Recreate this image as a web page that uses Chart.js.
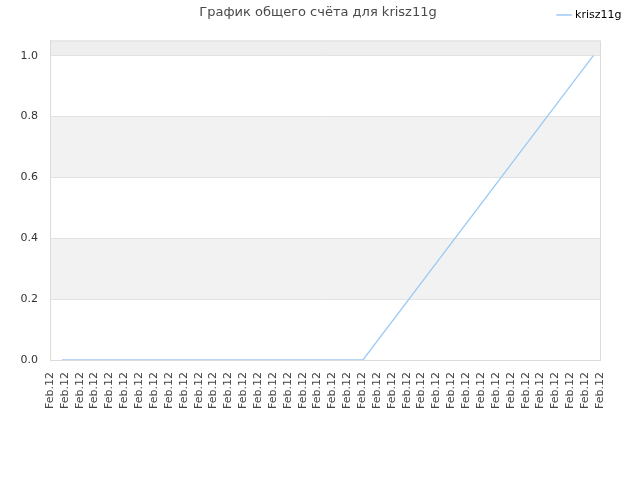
<!DOCTYPE html>
<html>
<head>
<meta charset="utf-8">
<script src="https://cdn.jsdelivr.net/npm/chart.js@4.4.1/dist/chart.umd.min.js"></script>
<style>
  html, body { margin: 0; padding: 0; background: #fff; }
</style>
</head>
<body>
<canvas id="grafico" width="640" height="480"></canvas>
<script>
const titulo = 'График общего счёта для krisz11g';
const jogador = 'krisz11g';
const rotulosX = ['Feb.12','Feb.12','Feb.12','Feb.12','Feb.12','Feb.12','Feb.12','Feb.12','Feb.12','Feb.12',
  'Feb.12','Feb.12','Feb.12','Feb.12','Feb.12','Feb.12','Feb.12','Feb.12','Feb.12','Feb.12',
  'Feb.12','Feb.12','Feb.12','Feb.12','Feb.12','Feb.12','Feb.12','Feb.12','Feb.12','Feb.12',
  'Feb.12','Feb.12','Feb.12','Feb.12','Feb.12','Feb.12','Feb.12','Feb.12'];
// posição no eixo do tempo (em marcas) e pontuação correspondente
const posicoes = [0.8, 21.05, 36.55];
const pontuacao = [0, 0, 1];

const fonte = 'DejaVu Sans';

// faixas cinza alternadas + moldura + título
const fundo = {
    id: 'fundo',
    beforeDraw(chart) {
        const { ctx, chartArea: a, scales: { y } } = chart;
        const t = y.ticks.map(k => k.value);
        ctx.save();
        for (let i = 0; i < t.length; i++) {
            if (i % 2 === 0) continue;
            const topo = y.getPixelForValue(i + 1 < t.length ? t[i + 1] : y.max);
            const base = y.getPixelForValue(t[i]);
            ctx.fillStyle = i === t.length - 1 ? '#eeeeee' : '#f2f2f2';
            ctx.fillRect(a.left, topo, a.right - a.left, base - topo);
        }
        ctx.restore();
    },
    afterDraw(chart) {
        const { ctx, chartArea: a } = chart;
        ctx.save();
        ctx.strokeStyle = '#dcdcdc';
        ctx.lineWidth = 1;
        ctx.strokeRect(a.left + 0.5, a.top + 0.5, a.right - a.left, a.bottom - a.top);
        ctx.font = '13px "' + fonte + '"';
        ctx.fillStyle = '#4a4a4a';
        ctx.textAlign = 'center';
        ctx.textBaseline = 'middle';
        ctx.fillText(titulo, 318, 13);
        ctx.restore();
    }
};

const vazio = (w, h) => ({
    grid: { display: false },
    border: { display: false },
    ticks: { display: false },
    afterFit: s => { if (w) s.width = w; if (h) s.height = h; }
});

new Chart(document.getElementById('grafico').getContext('2d'), {
    type: 'line',
    data: {
        datasets: [{
            label: jogador,
            data: posicoes.map((x, i) => ({ x: x, y: pontuacao[i] })),
            borderColor: '#9ecaf5',
            backgroundColor: '#9ecaf5',
            borderWidth: 1.3,
            pointRadius: 0,
            tension: 0,
            fill: false
        }]
    },
    options: {
        responsive: false,
        animation: false,
        layout: { padding: { top: 0, right: 9, bottom: 0, left: 0 } },
        plugins: {
            title: { display: false },
            tooltip: { enabled: false },
            legend: {
                position: 'top',
                align: 'end',
                labels: { usePointStyle: true, pointStyle: 'line', padding: 9.5, color: '#000', font: { family: fonte, size: 11 } }
            }
        },
        scales: {
            x: {
                type: 'linear',
                min: 0,
                max: rotulosX.length - 1,
                grid: { display: false, drawTicks: false },
                border: { color: '#dcdcdc' },
                ticks: {
                    stepSize: 1, autoSkip: false, minRotation: 90, maxRotation: 90, padding: 12,
                    color: '#444', font: { family: fonte, size: 11 },
                    callback: (v, i) => rotulosX[i]
                },
                afterFit: s => { s.height = 120; }
            },
            y: {
                min: 0,
                max: 1.05,
                grid: { color: '#e2e2e2', drawTicks: false },
                border: { color: '#dcdcdc' },
                ticks: {
                    stepSize: 0.2, includeBounds: false, padding: 12,
                    color: '#333', font: { family: fonte, size: 11 },
                    callback: v => v.toFixed(1)
                },
                afterFit: s => { s.width = 50; }
            },
            direita: Object.assign({ position: 'right' }, vazio(31, 0)),
            cima: Object.assign({ position: 'top' }, vazio(0, 10))
        }
    },
    plugins: [fundo]
});
</script>
</body>
</html>
